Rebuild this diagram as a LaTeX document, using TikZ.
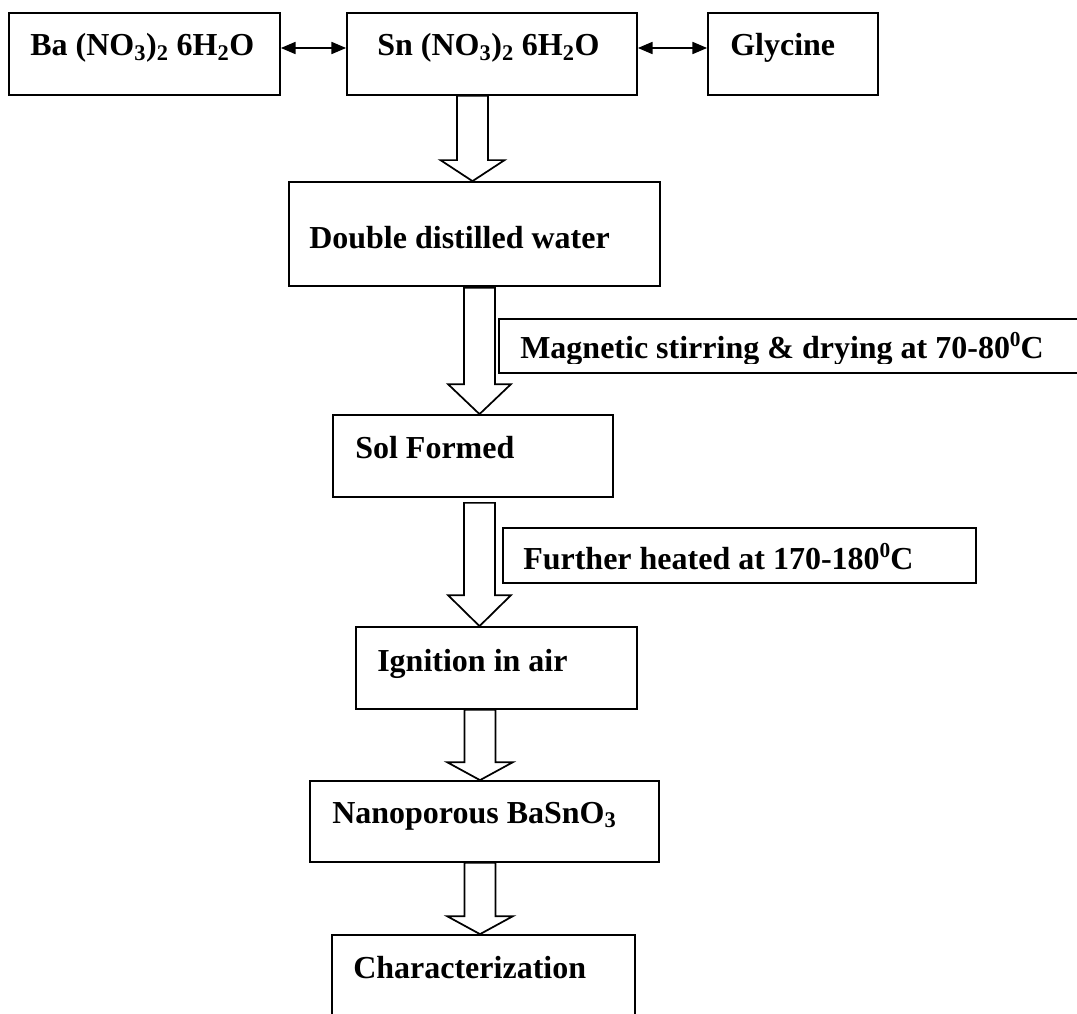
\documentclass[tikz,border=0pt]{standalone}
\usepackage{fontspec}
\setmainfont{Liberation Serif}
\usetikzlibrary{arrows.meta,fit,calc}
\newcommand\hollowarrow[7]{% #1 centre coord, #2 from node, #3 to node, #4 shaft half width, #5 head half width, #6 head length, #7 gap at top
  \draw[hollow] ($(#1|-#2.south)+(-#4,#7)$) -- ($(#1|-#3.north)+(-#4,-#6)$) -- ($(#1|-#3.north)+(-#5,-#6)$) -- (#1|-#3.north) -- ($(#1|-#3.north)+(#5,-#6)$) -- ($(#1|-#3.north)+(#4,-#6)$) -- ($(#1|-#2.south)+(#4,#7)$) -- cycle;}
\newcommand\degsup{\raisebox{8.5pt}{\fontsize{16}{16}\selectfont 0}}
\begin{document}
\begin{tikzpicture}[x=0.75pt,y=-0.75pt,
  box/.style={draw,line width=1.3pt,inner sep=0pt},
  txt/.style={font=\fontsize{24}{28}\selectfont\bfseries,anchor=base west,inner sep=0pt},
  hollow/.style={draw,line width=1.3pt,line join=miter,fill=white},
  dbl/.style={{Triangle[length=11pt,width=9pt]}-{Triangle[length=11pt,width=9pt]},line width=1.3pt}]
\useasboundingbox (0,0) rectangle (1077,1013);
\clip (0,0) rectangle (1077,1013);
% boxes
\node[box,fit={(9,13)(280,95)}] (ba) {};
\node[box,fit={(347,13)(637,95)}] (sn) {};
\node[box,fit={(708,13)(878,95)}] (gly) {};
\node[box,fit={(289,182)(660,286)}] (ddw) {};
\node[box,fit={(499,319)(1095,373)}] (mag) {};
\node[box,fit={(333,415)(613,497)}] (sol) {};
\node[box,fit={(503,528)(976,583)}] (heat) {};
\node[box,fit={(356,627)(637,709)}] (ign) {};
\node[box,fit={(310,781)(659,862)}] (nano) {};
\node[box,fit={(332,935)(635,1045)}] (char) {};
% texts
\node[txt] (tba) at (30,56) {Ba (NO\textsubscript{3})\textsubscript{2} 6H\textsubscript{2}O};
\node[txt] (tsn) at (377,56) {Sn (NO\textsubscript{3})\textsubscript{2} 6H\textsubscript{2}O};
\node[txt] (tgly) at (730,56) {Glycine};
\node[txt] (tddw) at (309,248) {Double distilled water};
\begin{scope}
  \clip (499,319) rectangle (1077,363.5);
  \node[txt] (tmag) at (520,358) {Magnetic stirring \& drying at 70-80\degsup C};
\end{scope}
\node[txt] (tsol) at (355,458) {Sol Formed};
\node[txt] (theat) at (523,569) {Further heated at 170-180\degsup C};
\node[txt] (tign) at (377,671) {Ignition in air};
\node[txt] (tnano) at (332,823) {Nanoporous BaSnO\textsubscript{3}};
\node[txt] (tchar) at (353,978) {Characterization};
% double arrows
\draw[dbl] ([yshift=4.5pt]ba.east) -- ([yshift=4.5pt]sn.west);
\draw[dbl] ([yshift=4.5pt]sn.east) -- ([yshift=4.5pt]gly.west);
% hollow arrows
\coordinate (c1) at (472.5,0);
\coordinate (c2) at (479.5,0);
\coordinate (c3) at (479.5,0);
\coordinate (c4) at (480,0);
\hollowarrow{c1}{sn}{ddw}{15.5}{32}{21}{0}
\hollowarrow{c2}{ddw}{sol}{15.5}{31.5}{30}{1}
\hollowarrow{c3}{sol}{ign}{15.5}{31.5}{31}{5}
\hollowarrow{c4}{ign}{nano}{15.5}{33}{18}{0}
\hollowarrow{c4}{nano}{char}{15.5}{33}{18}{0}
\end{tikzpicture}
\end{document}
